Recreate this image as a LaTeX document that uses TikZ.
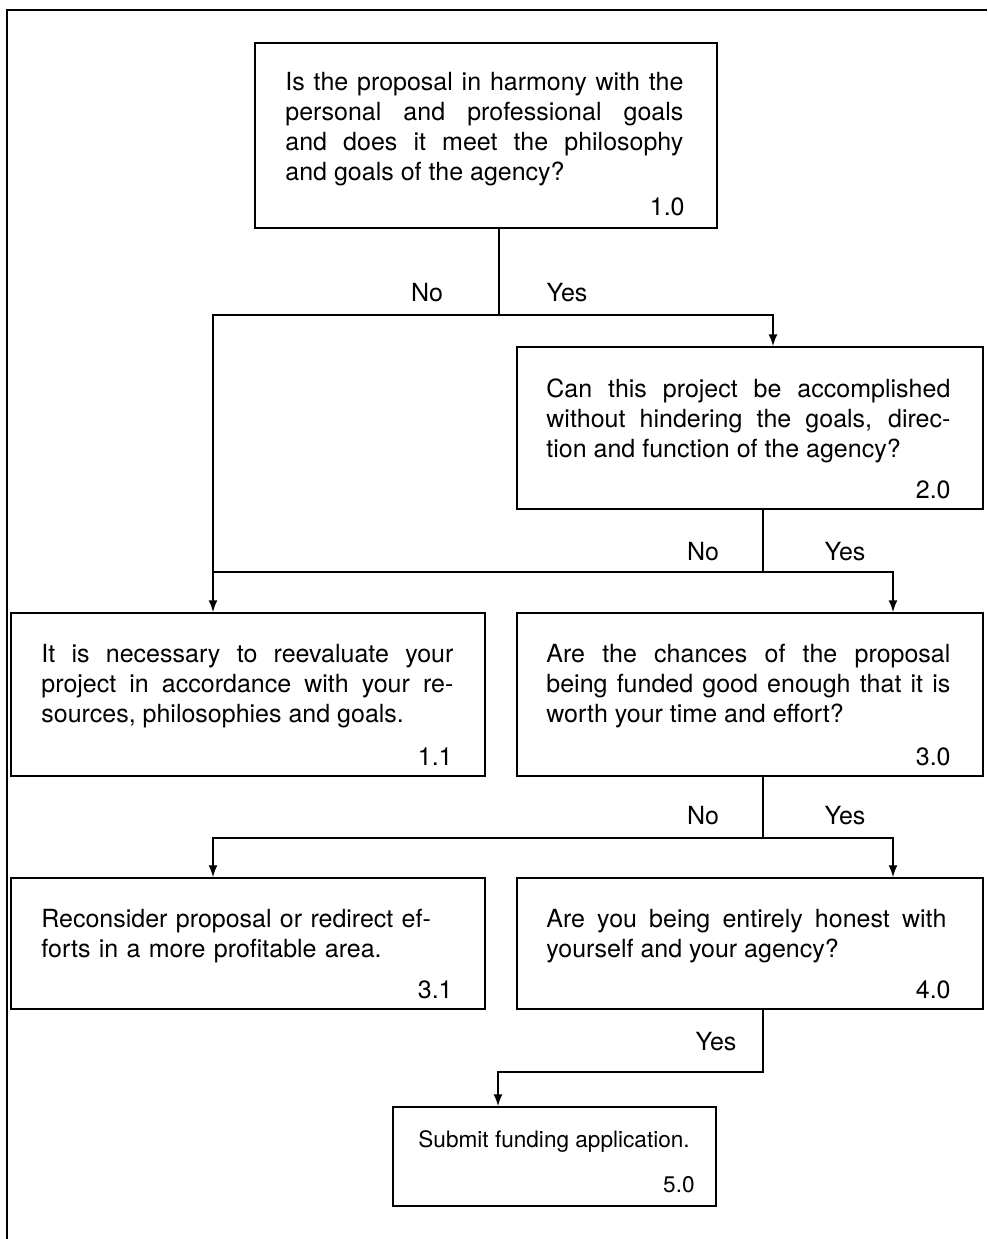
\documentclass[tikz,border=0pt]{standalone}
\usepackage{fontspec}
\setmainfont{TeX Gyre Heros}
\usetikzlibrary{arrows, positioning}

\tikzset{
  qbox/.style={draw, line width=1pt, inner sep=0pt, anchor=north west},
  qtext/.style={inner sep=0pt, anchor=north west, align=justify, font=\fontsize{12.5}{15}\selectfont},
  qnum/.style={inner sep=0pt, anchor=base east, font=\fontsize{12.5}{15}\selectfont},
  lbl/.style={inner sep=0pt, font=\fontsize{12.5}{15}\selectfont},
  conn/.style={line width=1pt},
}

\begin{document}
\begin{tikzpicture}[x=0.5pt, y=-0.5pt]
  \useasboundingbox (0,0) rectangle (987,1239);
  \draw[conn] (7,1239) -- (7,10) -- (987,10);

  % boxes
  \node[qbox, minimum width=231pt, minimum height=92.5pt] (q1) at (254,42) {};
  \node[qbox, minimum width=233pt, minimum height=81pt] (q2) at (516,346) {};
  \node[qbox, minimum width=237pt, minimum height=81.5pt] (q11) at (10,612) {};
  \node[qbox, minimum width=233pt, minimum height=81.5pt] (q3) at (516,612) {};
  \node[qbox, minimum width=237pt, minimum height=65.5pt] (q31) at (10,877) {};
  \node[qbox, minimum width=233pt, minimum height=65.5pt] (q4) at (516,877) {};
  \node[qbox, minimum width=161.5pt, minimum height=49.5pt] (q5) at (392,1106) {};

  % texts
  \node[qtext, text width=199pt] (q1t) at ([shift={(31,30)}]q1.north west)
    {Is the proposal in harmony with the\linebreak personal and professional goals\linebreak and does it meet the philosophy\linebreak and goals of the agency?};
  \node[qnum] (q1n) at ([shift={(-33,-14)}]q1.south east) {1.0};
  \node[qtext, text width=202pt] (q2t) at ([shift={(30,32)}]q2.north west)
    {Can this project be accomplished\linebreak without hindering the goals, direc-\linebreak tion and function of the agency?};
  \node[qnum] (q2n) at ([shift={(-33,-12)}]q2.south east) {2.0};
  \node[qtext, text width=206pt] (q11t) at ([shift={(31,32)}]q11.north west)
    {It is necessary to reevaluate your\linebreak project in accordance with your re-\linebreak sources, philosophies and goals.};
  \node[qnum] (q11n) at ([shift={(-33,-12)}]q11.south east) {1.1};
  \node[qtext, text width=202pt] (q3t) at ([shift={(30,32)}]q3.north west)
    {Are the chances of the proposal\linebreak being funded good enough that it is\linebreak worth your time and effort?};
  \node[qnum] (q3n) at ([shift={(-33,-12)}]q3.south east) {3.0};
  \node[qtext, text width=206pt, align=left] (q31t) at ([shift={(31,32)}]q31.north west)
    {Reconsider proposal or redirect ef-\\forts in a more profitable area.};
  \node[qnum] (q31n) at ([shift={(-33,-12)}]q31.south east) {3.1};
  \node[qtext, text width=200pt] (q4t) at ([shift={(30,32)}]q4.north west)
    {Are you being entirely honest with\linebreak yourself and your agency?};
  \node[qnum] (q4n) at ([shift={(-33,-12)}]q4.south east) {4.0};
  \node[qtext, align=left, font=\fontsize{11.3}{14}\selectfont] (q5t) at ([shift={(26,24)}]q5.north west) {Submit funding application.};
  \node[qnum, font=\fontsize{11.3}{14}\selectfont] (q5n) at ([shift={(-22,-15)}]q5.south east) {5.0};

  % junctions
  \coordinate (j1) at (499,315);
  \coordinate (j2) at (763,572);
  \coordinate (j3) at (763,838);
  \coordinate (j4) at (763,1072);
  \coordinate (aL) at (213,0);
  \coordinate (aM) at (773,0);
  \coordinate (aR) at (893,0);

  % connectors
  \draw[conn] (q1.south -| j1) -- (j1);
  \draw[conn, -latex] (j1) -| (q11.north -| aL);
  \draw[conn, -latex] (j1) -| (q2.north -| aM);
  \draw[conn] (q2.south -| j2) -- (j2);
  \draw[conn, -latex] (j2 -| aL) -| (q3.north -| aR);
  \draw[conn] (q3.south -| j3) -- (j3);
  \draw[conn, -latex] (j3) -| (q31.north -| aL);
  \draw[conn, -latex] (j3) -| (q4.north -| aR);
  \draw[conn, -latex] (q4.south -| j4) -- (j4) -| (q5.north -| 498,0);

  % labels
  \node[lbl] (no1) at ([shift={(-72,-22)}]j1) {No};
  \node[lbl] (yes1) at ([shift={(68,-22)}]j1) {Yes};
  \node[lbl] (no2) at ([shift={(-60,-20)}]j2) {No};
  \node[lbl] (yes2) at ([shift={(82,-20)}]j2) {Yes};
  \node[lbl] (no3) at ([shift={(-60,-22)}]j3) {No};
  \node[lbl] (yes3) at ([shift={(82,-22)}]j3) {Yes};
  \node[lbl] (yes4) at ([shift={(-47,-30)}]j4) {Yes};
\end{tikzpicture}
\end{document}
